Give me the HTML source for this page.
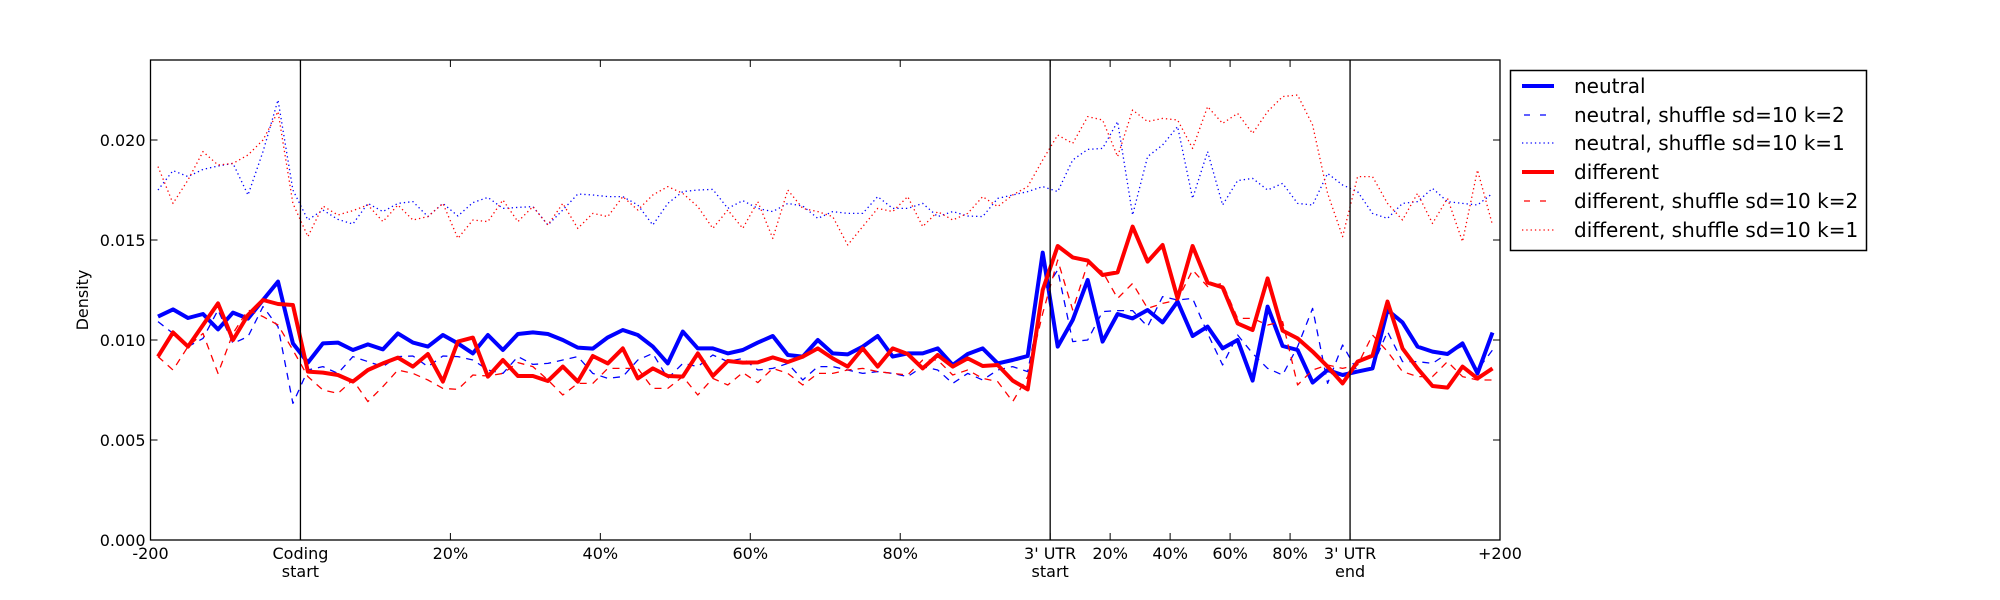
<!DOCTYPE html>
<html><head><meta charset="utf-8"><style>
html,body{margin:0;padding:0;background:#fff;}
svg{display:block;font-family:"DejaVu Sans","Liberation Sans",sans-serif;}
</style></head><body>
<svg id="chart" width="2000" height="600" viewBox="0 0 2000 600" xmlns="http://www.w3.org/2000/svg">
<rect x="0" y="0" width="2000" height="600" fill="#fff"/>
<g id="marks"></g>
<g id="axes"></g>
<text x="88" y="300" font-size="16" text-anchor="middle" transform="rotate(-90 88 300)">Density</text>
<g>
<rect x="1510.5" y="70.5" width="356" height="180" fill="#fff" stroke="#000" stroke-width="1.5"/>
<g><line x1="1522" y1="86" x2="1554" y2="86" stroke="#0000ff" stroke-width="4"/><text x="1574" y="93" font-size="20">neutral</text></g>
<g><line x1="1524" y1="115" x2="1552" y2="115" stroke="#0000ff" stroke-width="1.3" stroke-dasharray="6,10"/><text x="1574" y="122" font-size="20">neutral, shuffle sd=10 k=2</text></g>
<g><line x1="1522" y1="143" x2="1554" y2="143" stroke="#0000ff" stroke-width="1.3" stroke-dasharray="1.3,3"/><text x="1574" y="150" font-size="20">neutral, shuffle sd=10 k=1</text></g>
<g><line x1="1522" y1="172" x2="1554" y2="172" stroke="#ff0000" stroke-width="4"/><text x="1574" y="179" font-size="20">different</text></g>
<g><line x1="1524" y1="201" x2="1552" y2="201" stroke="#ff0000" stroke-width="1.3" stroke-dasharray="6,10"/><text x="1574" y="208" font-size="20">different, shuffle sd=10 k=2</text></g>
<g><line x1="1522" y1="230" x2="1554" y2="230" stroke="#ff0000" stroke-width="1.3" stroke-dasharray="1.3,3"/><text x="1574" y="237" font-size="20">different, shuffle sd=10 k=1</text></g>
</g>
</svg>
<script>
// values in units of 0.001 density, 90 bins
const neutral = [11.17,11.53,11.1,11.3,10.53,11.37,11.07,12.0,12.92,9.83, 8.87,9.83,9.87,9.5,9.78,9.53,10.33,9.87,9.67,10.25, 9.83,9.33,10.25,9.5,10.3,10.38,10.3,10.0,9.62,9.57, 10.13,10.5,10.25,9.67,8.83,10.42,9.58,9.58,9.33,9.5, 9.87,10.2,9.25,9.17,10.0,9.33,9.28,9.67,10.2,9.17, 9.33,9.33,9.58,8.75,9.3,9.58,8.83,9.0,9.2,14.37, 9.67,11.0,13.0,9.92,11.3,11.08,11.5,10.88,11.92,10.2, 10.67,9.58,10.0,7.97,11.67,9.7,9.5,7.87,8.5,8.25, 8.42,8.58,11.5,10.88,9.67,9.42,9.3,9.83,8.33,10.37];
const neutralK2 = [10.92,10.33,9.67,10.08,11.5,9.83,10.17,11.67,10.67,6.83, 8.5,8.67,8.33,9.17,8.92,8.67,9.17,9.2,8.67,9.2, 9.17,9.0,8.5,8.33,9.17,8.78,8.83,9.0,9.17,8.33, 8.08,8.17,9.0,9.33,8.08,8.83,8.67,9.25,8.92,9.08, 8.5,8.58,8.83,8.0,8.67,8.67,8.5,8.33,8.42,8.33, 8.17,8.67,8.5,7.83,8.33,8.0,8.5,8.67,8.42,12.33, 13.5,9.92,10.0,11.42,11.47,11.47,10.67,12.17,12.0,12.08, 10.33,8.75,10.25,9.33,8.58,8.25,9.67,11.58,7.83,9.75, 8.42,8.67,10.42,8.92,8.92,8.83,9.33,9.7,8.5,9.5];
const neutralK1 = [17.5,18.47,18.17,18.53,18.7,18.83,17.25,19.42,22.0,17.5, 16.0,16.5,16.03,15.8,16.83,16.42,16.83,16.92,16.17,16.83, 16.2,16.87,17.13,16.58,16.63,16.67,15.75,16.5,17.3,17.25, 17.17,17.17,16.75,15.75,16.83,17.42,17.5,17.53,16.58,16.97, 16.58,16.42,16.83,16.7,16.08,16.42,16.33,16.33,17.17,16.58, 16.58,16.83,16.17,16.42,16.2,16.17,17.08,17.25,17.42,17.67, 17.42,19.0,19.53,19.58,20.92,16.25,19.17,19.75,20.67,17.08, 19.42,16.75,17.97,18.08,17.5,17.83,16.83,16.75,18.33,17.75, 17.42,16.33,16.08,16.83,16.92,17.58,16.92,16.83,16.75,17.33];
const different = [9.17,10.38,9.67,10.75,11.83,10.0,11.25,12.0,11.8,11.75, 8.42,8.37,8.25,7.92,8.5,8.83,9.12,8.67,9.3,7.92, 9.92,10.12,8.17,9.0,8.2,8.2,7.95,8.67,7.92,9.2, 8.83,9.58,8.08,8.58,8.2,8.17,9.33,8.2,8.95,8.87, 8.88,9.13,8.9,9.17,9.58,9.08,8.67,9.58,8.67,9.58, 9.3,8.58,9.25,8.67,9.08,8.7,8.75,7.97,7.53,12.5, 14.7,14.13,13.97,13.25,13.38,15.67,13.92,14.75,12.08,14.7, 12.87,12.63,10.83,10.5,13.08,10.47,10.08,9.42,8.67,7.83, 8.92,9.22,11.92,9.58,8.58,7.7,7.62,8.67,8.08,8.58];
const differentK2 = [9.17,8.5,9.67,10.33,8.33,10.33,11.5,11.17,10.75,9.5, 8.17,7.5,7.33,8.0,6.92,7.67,8.5,8.33,8.0,7.58, 7.53,8.25,8.2,8.33,8.87,8.67,8.0,7.25,7.83,7.83, 8.58,8.58,8.58,7.58,7.58,8.17,7.25,8.08,7.75,8.37, 7.87,8.58,8.33,7.75,8.33,8.33,8.5,8.58,8.42,8.33, 8.25,9.0,9.0,8.25,8.5,8.08,7.92,6.92,8.17,11.33, 14.0,11.5,13.83,13.42,12.08,12.83,11.58,11.83,12.0,13.5, 12.67,12.83,11.08,11.08,10.75,10.92,7.75,8.5,8.75,8.58, 8.75,10.25,9.42,8.42,8.17,8.17,8.92,8.17,8.0,8.0];
const differentK1 = [18.67,16.83,18.0,19.42,18.75,18.83,19.25,20.0,21.42,16.83, 15.17,16.7,16.25,16.47,16.75,15.92,16.75,16.0,16.17,16.83, 15.08,16.0,15.92,17.0,15.92,16.67,15.75,16.83,15.58,16.33, 16.17,17.17,16.5,17.25,17.67,17.33,16.67,15.58,16.5,15.58, 16.92,15.08,17.5,16.58,16.42,16.17,14.75,15.67,16.58,16.42, 17.17,15.67,16.42,16.0,16.33,17.17,16.67,17.25,17.67,19.0, 20.25,19.83,21.17,21.0,19.17,21.5,20.92,21.08,21.0,19.58, 21.67,20.83,21.33,20.33,21.42,22.17,22.25,20.75,17.33,15.17, 18.17,18.17,16.83,16.0,17.33,15.83,17.08,14.92,18.5,15.75];
const yTicks = [0, 5, 10, 15, 20];
const yTickLabels = ["0.000","0.005","0.010","0.015","0.020"];
// x ticks in bin units (0..90)
const xTickLabelList = ["-200","Coding\nstart","20%","40%","60%","80%","3' UTR\nstart","20%","40%","60%","80%","3' UTR\nend","+200"];
const xTickPos = [0,10,20,30,40,50,60,64,68,72,76,80,90];
const regionLines = [10, 60, 80];

const L=150.5, R=1500, T=60, B=540, NB=90, YMAX=24;
const sx = v => L + (R-L)*v/NB;
const sy = v => B - (B-T)*v/YMAX;
const NS="http://www.w3.org/2000/svg";
const marks=document.getElementById('marks');
const axes=document.getElementById('axes');
function mk(tag, attrs, parent){const e=document.createElementNS(NS,tag);for(const k in attrs)e.setAttribute(k,attrs[k]);parent.appendChild(e);return e;}

const series=[
 [neutral,'#0000ff',4,null,'line-neutral'],
 [neutralK2,'#0000ff',1.3,'7,6','line-neutral-k2'],
 [neutralK1,'#0000ff',1.3,'1.3,3','line-neutral-k1'],
 [different,'#ff0000',4,null,'line-different'],
 [differentK2,'#ff0000',1.3,'7,6','line-different-k2'],
 [differentK1,'#ff0000',1.3,'1.3,3','line-different-k1']
];
series.forEach(s=>{
  const pts=s[0].map((v,i)=>sx(i+0.5).toFixed(1)+','+sy(v).toFixed(1)).join(' ');
  const p=mk('polyline',{points:pts,fill:'none',stroke:s[1],'stroke-width':s[2],'stroke-linejoin':'round'},marks);
  if(s[3])p.setAttribute('stroke-dasharray',s[3]);
  
  
});

regionLines.forEach(r=>{
  const l=mk('line',{x1:sx(r),x2:sx(r),y1:T,y2:B,stroke:'#000','stroke-width':1.3},axes);
  
  
});
const frame=mk('rect',{x:L,y:T,width:R-L,height:B-T,fill:'none',stroke:'#000','stroke-width':1.3},axes);



yTicks.forEach((v,i)=>{
  const y=sy(v);
  mk('line',{x1:L,x2:L+7,y1:y,y2:y,stroke:'#000','stroke-width':1},axes);
  mk('line',{x1:R-7,x2:R,y1:y,y2:y,stroke:'#000','stroke-width':1},axes);
  const t=mk('text',{x:L-5,y:y+6,'font-size':16,'text-anchor':'end'},axes);
  t.textContent=yTickLabels[i];
  
  
});
xTickPos.forEach((v,i)=>{
  const x=sx(v);
  mk('line',{x1:x,x2:x,y1:B,y2:B-7,stroke:'#000','stroke-width':1},axes);
  mk('line',{x1:x,x2:x,y1:T,y2:T+7,stroke:'#000','stroke-width':1},axes);
  const lines=xTickLabelList[i].split('\n');
  lines.forEach((ln,j)=>{
    const t=mk('text',{x:x,y:559+j*18,'font-size':16,'text-anchor':'middle'},axes);
    t.textContent=ln;
    
    
  });
});
</script>
</body></html>
